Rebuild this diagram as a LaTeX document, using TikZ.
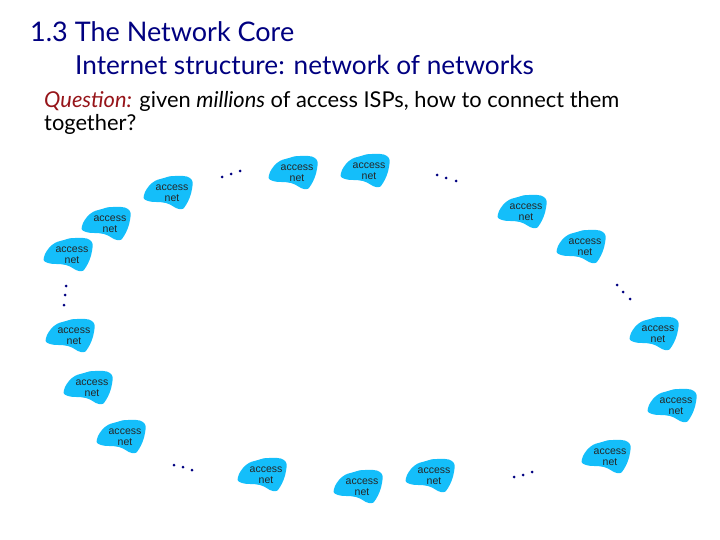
\documentclass[tikz,border=0pt]{standalone}
\usepackage{fontspec}
\setmainfont{Lato}
\newfontfamily\netfont{Liberation Sans}
\usepackage{xcolor}
\definecolor{titleblue}{RGB}{0,0,128}
\definecolor{askred}{RGB}{150,20,25}
\definecolor{netblue}{RGB}{20,190,250}
\begin{document}
\begin{tikzpicture}[
  x=1pt, y=-1pt,
  title/.style={anchor=base west, inner sep=0pt, text=titleblue, font=\fontsize{27}{27}\selectfont},
  ask/.style={anchor=base west, inner sep=0pt, font=\fontsize{21.85}{22}\selectfont},
  lab/.style={align=center, inner sep=0pt, text=black!85, font=\netfont\fontsize{10.5}{10.5}\selectfont},
  dot/.style={circle, fill=titleblue, inner sep=0pt, minimum size=3pt},
  accessnet/.pic={
    \fill[netblue] plot[smooth cycle, tension=0.75] coordinates {(-28,3) (-20,-9) (-8,-14) (3,-16) (18,-14) (20,-3) (14,13) (7,17) (-6,11) (-24,9)};
    \node[lab, yshift=-1pt] (lab) {access\\ net};
  }]
  \useasboundingbox (0,0) rectangle (720,540);
  \node[title] (head) at (30,42) {1.3 The Network Core};
  \node[title, font=\fontsize{26.2}{27}\selectfont] (sub) at (75,75) {Internet structure: network of networks};
  \node[ask] (ques) at (44,108) {\textcolor{askred}{\textit{Question:}} given \textit{millions} of access ISPs, how to connect them};
  \node[ask] (quest) at (44,131) {together?};
  \pic (n1) at (172,192) {accessnet};
  \pic (n2) at (297,172) {accessnet};
  \pic (n3) at (369,170) {accessnet};
  \pic (n4) at (526,211) {accessnet};
  \pic (n5) at (585,246) {accessnet};
  \pic (n6) at (658,333) {accessnet};
  \pic (n7) at (676,405) {accessnet};
  \pic (n8) at (610,456) {accessnet};
  \pic (n9) at (434,475) {accessnet};
  \pic (n10) at (362,486) {accessnet};
  \pic (n11) at (266,474) {accessnet};
  \pic (n12) at (125,436) {accessnet};
  \pic (n13) at (92,387) {accessnet};
  \pic (n14) at (74,335) {accessnet};
  \pic (n15) at (72,254) {accessnet};
  \pic (n16) at (110,223) {accessnet};
  \node[dot] (a1) at (222,177) {}; \node[dot] (a2) at (231,174) {}; \node[dot] (a3) at (240,171) {};
  \node[dot] (b1) at (437,175) {}; \node[dot] (b2) at (446,178) {}; \node[dot] (b3) at (456,181) {};
  \node[dot] (c1) at (617,285) {}; \node[dot] (c2) at (623,292) {}; \node[dot] (c3) at (630,299) {};
  \node[dot] (d1) at (514,477) {}; \node[dot] (d2) at (523,475) {}; \node[dot] (d3) at (532,472) {};
  \node[dot] (e1) at (174,465) {}; \node[dot] (e2) at (183,467) {}; \node[dot] (e3) at (192,470) {};
  \node[dot] (f1) at (66,286) {}; \node[dot] (f2) at (65,295) {}; \node[dot] (f3) at (64,305) {};
\end{tikzpicture}
\end{document}
